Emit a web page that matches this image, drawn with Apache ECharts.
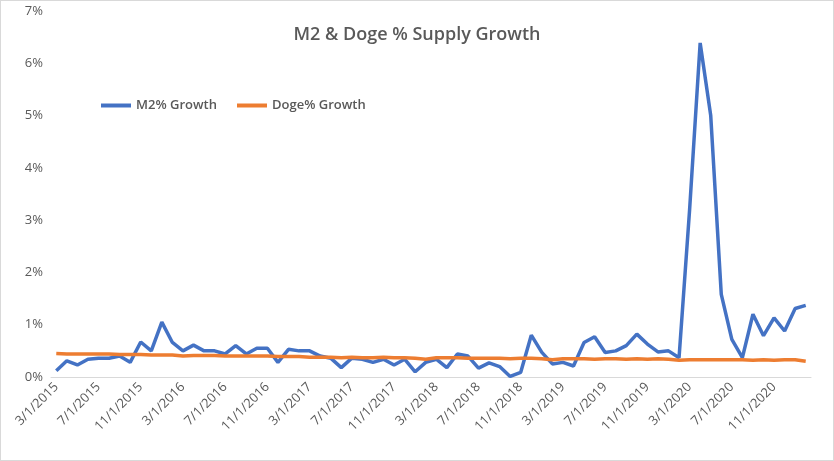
<!DOCTYPE html>
<html>
<head>
<meta charset="utf-8">
<script src="https://cdn.jsdelivr.net/npm/echarts@6/dist/echarts.min.js"></script>
<style>
html,body{margin:0;padding:0;background:#fff;}
#main{width:832px;height:459px;border:1px solid #d9d9d9;}
</style>
</head>
<body>
<div id="main"></div>
<script>
// monthly categories 3/1/2015 .. 2/1/2021
var categories = [];
for (var i = 0; i < 72; i++) {
    var m = (2 + i) % 12 + 1, y = 2015 + Math.floor((2 + i) / 12);
    categories.push(m + '/1/' + y);
}
var m2Growth = [0.12, 0.31, 0.23, 0.34, 0.36, 0.36, 0.40, 0.28, 0.67, 0.50, 1.05, 0.66,
    0.50, 0.61, 0.50, 0.50, 0.44, 0.60, 0.44, 0.55, 0.55, 0.28, 0.53, 0.50,
    0.50, 0.40, 0.36, 0.18, 0.36, 0.34, 0.28, 0.34, 0.23, 0.34, 0.10, 0.28,
    0.34, 0.18, 0.44, 0.40, 0.17, 0.27, 0.20, 0.01, 0.09, 0.80, 0.47, 0.25,
    0.28, 0.21, 0.66, 0.77, 0.47, 0.50, 0.60, 0.82, 0.63, 0.48, 0.50, 0.37,
    3.20, 6.39, 5.00, 1.58, 0.72, 0.37, 1.20, 0.79, 1.13, 0.88, 1.31, 1.37];
var dogeGrowth = [0.45, 0.44, 0.44, 0.44, 0.44, 0.44, 0.43, 0.43, 0.43, 0.42, 0.42, 0.42,
    0.40, 0.41, 0.41, 0.41, 0.40, 0.40, 0.40, 0.40, 0.40, 0.39, 0.39, 0.39,
    0.38, 0.38, 0.38, 0.37, 0.38, 0.37, 0.37, 0.38, 0.37, 0.37, 0.36, 0.34,
    0.37, 0.37, 0.37, 0.36, 0.36, 0.36, 0.36, 0.35, 0.36, 0.36, 0.35, 0.33,
    0.35, 0.35, 0.35, 0.34, 0.35, 0.35, 0.34, 0.35, 0.34, 0.35, 0.34, 0.32,
    0.33, 0.33, 0.33, 0.33, 0.33, 0.33, 0.32, 0.33, 0.32, 0.33, 0.33, 0.30];

var myChart = echarts.init(document.getElementById('main'));
var option = {
    textStyle: { fontFamily: 'Open Sans' },
    title: {
        text: 'M2 & Doge % Supply Growth',
        left: 'center',
        top: 20,
        textStyle: { color: '#595959', fontSize: 18, fontWeight: 600 }
    },
    legend: {
        left: 95,
        top: 93,
        itemWidth: 30,
        itemGap: 20,
        icon: 'rect',
        itemHeight: 4,
        textStyle: { color: '#595959', fontSize: 13, fontWeight: 600 },
        data: ['M2% Growth', 'Doge% Growth']
    },
    grid: { left: 50, right: 22, top: 10, bottom: 83 },
    xAxis: {
        type: 'category',
        data: categories,
        boundaryGap: true,
        axisLine: { lineStyle: { color: '#d9d9d9' } },
        axisTick: { interval: 3, lineStyle: { color: '#d9d9d9' } },
        axisLabel: { interval: 3, rotate: 45, color: '#595959', fontSize: 13, margin: 8 }
    },
    yAxis: {
        type: 'value',
        min: 0, max: 7, interval: 1,
        axisLine: { show: false },
        axisTick: { show: false },
        splitLine: { show: false },
        axisLabel: { formatter: '{value}%', color: '#595959', fontSize: 13 }
    },
    series: [{
        name: 'M2% Growth',
        type: 'line',
        data: m2Growth,
        symbol: 'none',
        lineStyle: { color: '#4472c4', width: 3.5 },
        itemStyle: { color: '#4472c4' }
    }, {
        name: 'Doge% Growth',
        type: 'line',
        data: dogeGrowth,
        symbol: 'none',
        lineStyle: { color: '#ed7d31', width: 3.5 },
        itemStyle: { color: '#ed7d31' }
    }]
};
myChart.setOption(option, true);
</script>
</body>
</html>
